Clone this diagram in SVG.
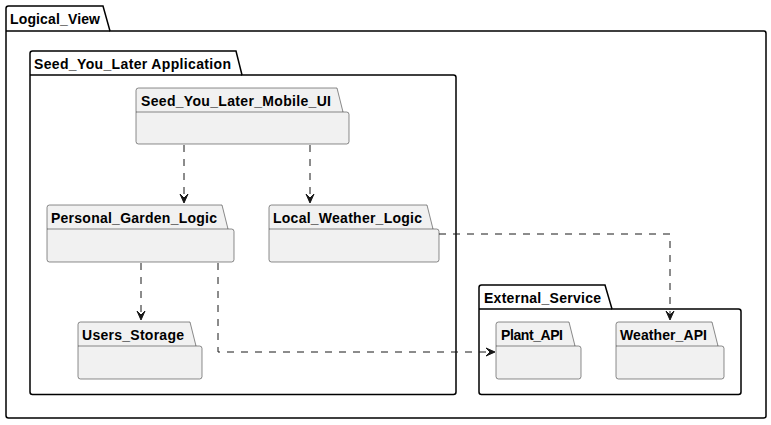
<svg xmlns="http://www.w3.org/2000/svg" width="771" height="425" viewBox="0 0 771 425">
<style>
.pkg{fill:#FFFFFF;stroke:#000000;stroke-width:1.5}
.node{fill:#F1F1F1;stroke:#181818;stroke-width:0.5}
.t{font-family:"Liberation Sans",Arial,sans-serif;font-weight:bold;font-size:14px;fill:#000000}
.edge{fill:none;stroke:#181818;stroke-width:1;stroke-dasharray:7,7}
.head{fill:#181818;stroke:#181818;stroke-width:1}
</style>
<rect width="771" height="425" fill="#FFFFFF"/>
<g id="Logical_View">
<path class="pkg" d="M8.5,6 L103,6 L110,31 L764,31 Q766,31 766,33.5 L766,416 Q766,418 763.5,418 L8.5,418 Q6,418 6,415.5 L6,8.5 Q6,6 8.5,6 Z"/>
<line class="pkg" x1="6" y1="31" x2="110" y2="31"/>
<text class="t" x="10" y="24" textLength="90" lengthAdjust="spacing">Logical_View</text>
</g>
<g id="Seed_You_Later_Application">
<path class="pkg" d="M32.5,51 L236,51 L242,75 L453.5,75 Q456,75 456,77.5 L456,392 Q456,394.5 453.5,394.5 L32.5,394.5 Q30,394.5 30,392 L30,53.5 Q30,51 32.5,51 Z"/>
<line class="pkg" x1="30" y1="75" x2="242" y2="75"/>
<text class="t" x="34" y="69" textLength="197" lengthAdjust="spacing">Seed_You_Later Application</text>
</g>
<g id="External_Service">
<path class="pkg" d="M481.5,285 L605,285 L612,309 L738.5,309 Q741,309 741,311.5 L741,392 Q741,394.5 738.5,394.5 L481.5,394.5 Q479,394.5 479,392 L479,287.5 Q479,285 481.5,285 Z"/>
<line class="pkg" x1="479" y1="309" x2="612" y2="309"/>
<text class="t" x="484" y="303" textLength="117" lengthAdjust="spacing">External_Service</text>
</g>
<g id="Seed_You_Later_Mobile_UI">
<path class="node" d="M138.5,88 L337,88 L343,112 L346.5,112 Q349,112 349,114.5 L349,141.5 Q349,144 346.5,144 L138.5,144 Q136,144 136,141.5 L136,90.5 Q136,88 138.5,88 Z"/>
<line class="node" x1="136" y1="112" x2="343" y2="112"/>
<text class="t" x="141" y="106" textLength="190" lengthAdjust="spacing">Seed_You_Later_Mobile_UI</text>
</g>
<g id="Personal_Garden_Logic">
<path class="node" d="M49.5,205 L222,205 L228,229 L231.5,229 Q234,229 234,231.5 L234,259.5 Q234,262 231.5,262 L49.5,262 Q47,262 47,259.5 L47,207.5 Q47,205 49.5,205 Z"/>
<line class="node" x1="47" y1="229" x2="228" y2="229"/>
<text class="t" x="51" y="223" textLength="166" lengthAdjust="spacing">Personal_Garden_Logic</text>
</g>
<g id="Local_Weather_Logic">
<path class="node" d="M271.5,205 L427,205 L433,229 L436.5,229 Q439,229 439,231.5 L439,259.5 Q439,262 436.5,262 L271.5,262 Q269,262 269,259.5 L269,207.5 Q269,205 271.5,205 Z"/>
<line class="node" x1="269" y1="229" x2="433" y2="229"/>
<text class="t" x="273" y="223" textLength="149" lengthAdjust="spacing">Local_Weather_Logic</text>
</g>
<g id="Users_Storage">
<path class="node" d="M80.5,322 L190,322 L196,346 L199.5,346 Q202,346 202,348.5 L202,376.5 Q202,379 199.5,379 L80.5,379 Q78,379 78,376.5 L78,324.5 Q78,322 80.5,322 Z"/>
<line class="node" x1="78" y1="346" x2="196" y2="346"/>
<text class="t" x="82" y="340" textLength="102" lengthAdjust="spacing">Users_Storage</text>
</g>
<g id="Plant_API">
<path class="node" d="M498.5,322 L569,322 L575,346 L578.5,346 Q581,346 581,348.5 L581,376.5 Q581,379 578.5,379 L498.5,379 Q496,379 496,376.5 L496,324.5 Q496,322 498.5,322 Z"/>
<line class="node" x1="496" y1="346" x2="575" y2="346"/>
<text class="t" x="501" y="340" textLength="62" lengthAdjust="spacing">Plant_API</text>
</g>
<g id="Weather_API">
<path class="node" d="M618.5,322 L712,322 L718,346 L721.5,346 Q724,346 724,348.5 L724,376.5 Q724,379 721.5,379 L618.5,379 Q616,379 616,376.5 L616,324.5 Q616,322 618.5,322 Z"/>
<line class="node" x1="616" y1="346" x2="718" y2="346"/>
<text class="t" x="620" y="340" textLength="87" lengthAdjust="spacing">Weather_API</text>
</g>
<g id="connectors">
<path class="edge" d="M184,145 L184,202"/>
<path class="head" d="M184,203 L180,194 L184,198 L188,194 Z"/>
<path class="edge" d="M310,145 L310,202"/>
<path class="head" d="M310,203 L306,194 L310,198 L314,194 Z"/>
<path class="edge" d="M141,263 L141,319"/>
<path class="head" d="M141,320 L137,311 L141,315 L145,311 Z"/>
<path class="edge" d="M218,263 L218,352 L494,352"/>
<path class="head" d="M495,352 L486,348 L490,352 L486,356 Z"/>
<path class="edge" d="M439,234 L670,234 L670,319"/>
<path class="head" d="M670,320 L666,311 L670,315 L674,311 Z"/>
</g>
</svg>
